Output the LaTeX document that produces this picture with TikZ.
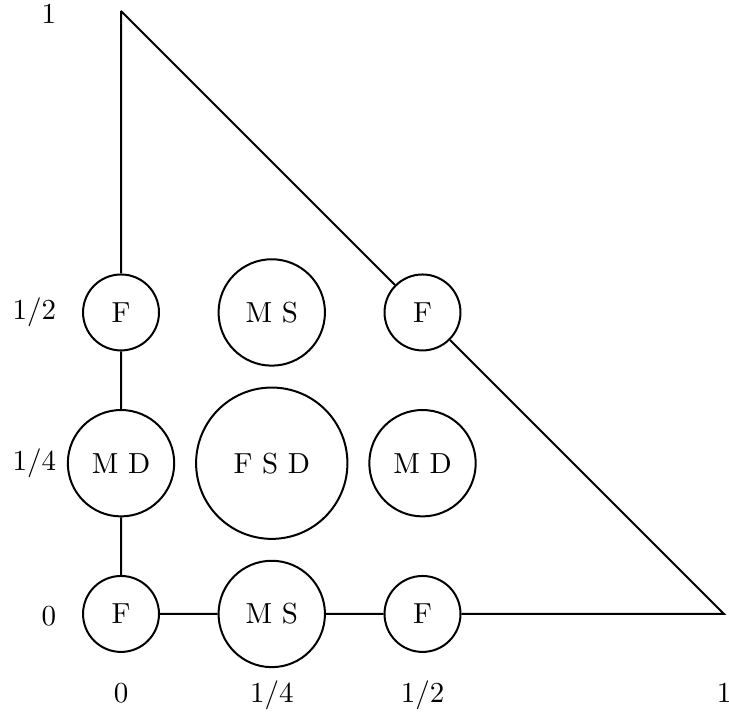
\documentclass[tikz,border=0pt]{standalone}
\begin{document}
\begin{tikzpicture}[x=208pt,y=208pt,line width=0.69pt,
  state/.style={draw,circle,inner sep=0pt,line width=0.69pt},
  sm/.style={state,minimum size=26.2pt},
  md/.style={state,minimum size=36.7pt},
  lg/.style={state,minimum size=52.2pt},
  axl/.style={anchor=east,inner sep=0pt},
  axb/.style={anchor=base,inner sep=0pt}]
\useasboundingbox (-0.2007,-0.1675) rectangle (1.0083,1.0182);
\node[sm] (f00) at (0,0) {F};
\node[md] (ms0) at (0.25,0) {M S};
\node[sm] (f10) at (0.5,0) {F};
\node[md] (md0) at (0,0.25) {M D};
\node[lg] (fsd) at (0.25,0.25) {F S D};
\node[md] (md1) at (0.5,0.25) {M D};
\node[sm] (f01) at (0,0.5) {F};
\node[md] (ms1) at (0.25,0.5) {M S};
\node[sm] (f11) at (0.5,0.5) {F};
\coordinate (top) at (0,1);
\coordinate (right) at (1,0);
\draw (top) -- (f01) -- (md0) -- (f00) -- (ms0) -- (f10) -- (right) -- (f11) -- (top);
\node[axl] (l1) at (-0.106,0.995) {1};
\node[axl] (l12) at (-0.106,0.5) {1/2};
\node[axl] (l14) at (-0.106,0.25) {1/4};
\node[axl] (l0) at (-0.106,-0.004) {0};
\node[axb] (b0) at (0,-0.1476) {0};
\node[axb] (b14) at (0.25,-0.1476) {1/4};
\node[axb] (b12) at (0.5,-0.1476) {1/2};
\node[axb] (b1) at (1,-0.1476) {1};
\end{tikzpicture}
\end{document}
